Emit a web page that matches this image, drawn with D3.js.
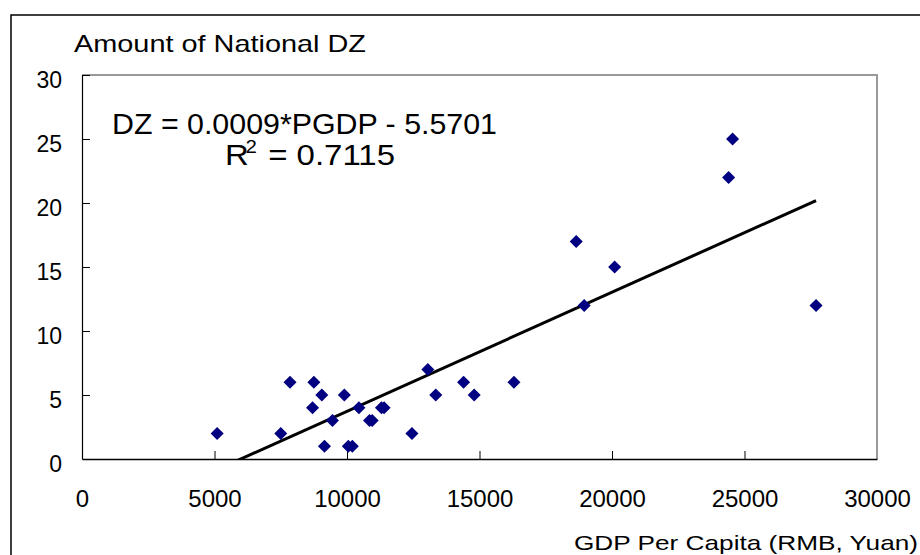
<!DOCTYPE html>
<html>
<head>
<meta charset="utf-8">
<script src="https://cdn.jsdelivr.net/npm/d3@7"></script>
<style>
  html, body { margin: 0; padding: 0; background: #fff; }
  svg { display: block; font-family: "Liberation Sans", Arial, sans-serif; }
</style>
</head>
<body>
<svg id="chart" width="920" height="555"></svg>
<script>
// ---- data ----
const gdpPerCapita = [5100, 7500, 7850, 8750, 9050, 8700, 9450, 9150, 9900, 10050, 10200, 10450, 10850, 10950, 11300, 11400, 12450, 13050, 13350, 14400, 14800, 16300, 18650, 20100, 18950, 24550, 24400, 27700];
const dzAmount     = [2, 2, 6, 6, 5, 4, 3, 1, 5, 1, 1, 4, 3, 3, 4, 4, 2, 7, 5, 6, 5, 6, 17, 15, 12, 25, 22, 12];
const xTicks = [0, 5000, 10000, 15000, 20000, 25000, 30000];
const yTicks = [0, 5, 10, 15, 20, 25, 30];
const trendSlope = 0.00093;
const trendIntercept = -5.5701;
const equationText = "DZ = 0.0009*PGDP - 5.5701";
const r2Value = "0.7115";
const yTitle = "Amount of National DZ";
const xTitle = "GDP Per Capita (RMB, Yuan)";

const svg = d3.select("#chart");
const plot = { left: 82, right: 877, top: 75, bottom: 459 };

const x = d3.scaleLinear().domain([0, 30000]).range([plot.left, plot.right]);
const y = d3.scaleLinear().domain([0, 30]).range([plot.bottom, plot.top]);

// outer frame
svg.append("rect")
  .attr("x", 11).attr("y", 15).attr("width", 930).attr("height", 560)
  .attr("fill", "none").attr("stroke", "#000").attr("stroke-width", 1.5);

// plot area gray border (top & right)
svg.append("path")
  .attr("d", `M${plot.left},${plot.top}H${plot.right}V${plot.bottom}`)
  .attr("fill", "none").attr("stroke", "#999").attr("stroke-width", 2);

// clip
svg.append("clipPath").attr("id", "clip")
  .append("rect").attr("x", plot.left).attr("y", plot.top)
  .attr("width", plot.right - plot.left).attr("height", plot.bottom - plot.top);

// axes
const xAxis = svg.append("g").attr("transform", `translate(0,${plot.bottom})`)
  .call(d3.axisBottom(x).tickValues(xTicks).tickSizeInner(-8).tickSizeOuter(0).tickFormat(d => d));
xAxis.select(".domain").attr("stroke", "#000").attr("stroke-width", 1.5);
xAxis.selectAll(".tick line").attr("stroke", "#000");
xAxis.selectAll(".tick").filter(d => d === 0 || d === 30000).select("line").remove();
xAxis.selectAll(".tick text")
  .attr("y", 48).attr("dy", 0)
  .attr("font-size", 24).attr("fill", "#000")
  .attr("font-family", "Liberation Sans, Arial, sans-serif");

const yAxis = svg.append("g").attr("transform", `translate(${plot.left},0)`)
  .call(d3.axisLeft(y).tickValues(yTicks).tickSizeInner(-8).tickSizeOuter(0).tickFormat(d => d));
yAxis.select(".domain").attr("stroke", "#000").attr("stroke-width", 1.2);
yAxis.selectAll(".tick line").attr("stroke", "#000");
yAxis.selectAll(".tick").filter(d => d === 0).select("line").remove();
yAxis.selectAll(".tick text")
  .attr("x", -20).attr("dy", 12.5)
  .attr("font-size", 23).attr("fill", "#000")
  .attr("font-family", "Liberation Sans, Arial, sans-serif");

// trend line
const x0 = d3.min(gdpPerCapita), x1 = d3.max(gdpPerCapita);
svg.append("line")
  .attr("clip-path", "url(#clip)")
  .attr("x1", x(x0)).attr("y1", y(trendSlope * x0 + trendIntercept))
  .attr("x2", x(x1)).attr("y2", y(trendSlope * x1 + trendIntercept))
  .attr("stroke", "#000").attr("stroke-width", 3);

// points
const diamond = d3.symbol().type(d3.symbolSquare).size(85);
svg.append("g").selectAll("path")
  .data(gdpPerCapita.map((g, i) => [g, dzAmount[i]]))
  .join("path")
  .attr("d", diamond)
  .attr("transform", d => `translate(${x(d[0])},${y(d[1])}) rotate(45)`)
  .attr("fill", "#000080");

// equation
svg.append("text")
  .attr("x", 112).attr("y", 134)
  .attr("font-size", 29)
  .attr("textLength", 385).attr("lengthAdjust", "spacingAndGlyphs")
  .text(equationText);

const r2 = svg.append("text").attr("x", 225).attr("y", 165).attr("font-size", 29)
  .attr("textLength", 170).attr("lengthAdjust", "spacingAndGlyphs");
r2.append("tspan").text("R");
r2.append("tspan").attr("font-size", 18).attr("dx", -3).attr("dy", -12).text("2");
r2.append("tspan").attr("dy", 12).attr("dx", 2).text(" = " + r2Value);

// axis titles
svg.append("text")
  .attr("x", 74).attr("y", 52)
  .attr("font-size", 24)
  .attr("textLength", 292).attr("lengthAdjust", "spacingAndGlyphs")
  .text(yTitle);

svg.append("text")
  .attr("x", 574).attr("y", 550)
  .attr("font-size", 21)
  .attr("textLength", 344).attr("lengthAdjust", "spacingAndGlyphs")
  .text(xTitle);
</script>
</body>
</html>
